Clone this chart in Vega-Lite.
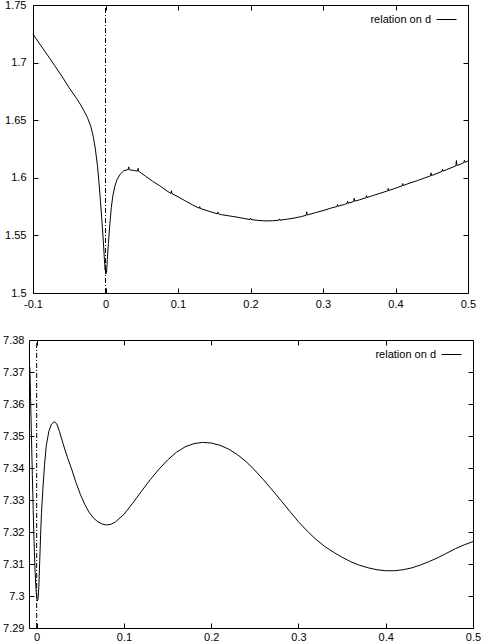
{
  "$schema": "https://vega.github.io/schema/vega-lite/v6.json",
  "background": "white",
  "padding": {"left": 2, "top": -1, "right": 0, "bottom": 0},
  "config": {
    "view": {"stroke": "black", "strokeWidth": 1},
    "axis": {"domain": false, "grid": false, "title": null, "labelFlush": false, "labelFont": "Liberation Sans", "labelFontSize": 11, "labelColor": "black", "tickColor": "black", "tickSize": -5, "tickWidth": 1, "domainColor": "black", "domainWidth": 1},
    "legend": {"orient": "top-right", "offset": 9, "padding": 0, "title": null, "symbolType": "M-2,0H2", "symbolSize": 100, "symbolStrokeWidth": 1, "labelAlign": "right", "labelOffset": -21, "labelFont": "Liberation Sans", "labelFontSize": 11, "labelColor": "black"}
  },
  "vconcat": [
    {
      "width": 439,
      "height": 288,
      "view": {"stroke": null},
      "layer": [
        {
          "data": {"values": [
            {"x": -0.1, "y": 1.7246}, {"x": -0.09, "y": 1.7155}, {"x": -0.08, "y": 1.7065}, {"x": -0.07, "y": 1.6973},
            {"x": -0.06, "y": 1.688}, {"x": -0.05, "y": 1.678}, {"x": -0.04, "y": 1.669}, {"x": -0.035, "y": 1.664},
            {"x": -0.03, "y": 1.6585}, {"x": -0.025, "y": 1.6525}, {"x": -0.02, "y": 1.644}, {"x": -0.017, "y": 1.636},
            {"x": -0.014, "y": 1.625}, {"x": -0.011, "y": 1.61}, {"x": -0.009, "y": 1.596}, {"x": -0.007, "y": 1.58},
            {"x": -0.005, "y": 1.563}, {"x": -0.003, "y": 1.545}, {"x": -0.0015, "y": 1.529}, {"x": -0.0005, "y": 1.52},
            {"x": 0.0, "y": 1.523}, {"x": 0.0005, "y": 1.5165}, {"x": 0.001, "y": 1.52}, {"x": 0.0015, "y": 1.518},
            {"x": 0.0025, "y": 1.529}, {"x": 0.004, "y": 1.543}, {"x": 0.006, "y": 1.56}, {"x": 0.008, "y": 1.574},
            {"x": 0.01, "y": 1.584}, {"x": 0.013, "y": 1.593}, {"x": 0.016, "y": 1.5985}, {"x": 0.02, "y": 1.603},
            {"x": 0.025, "y": 1.606}, {"x": 0.03, "y": 1.607}, {"x": 0.0313, "y": 1.6072}, {"x": 0.032, "y": 1.6095},
            {"x": 0.0327, "y": 1.6069}, {"x": 0.035, "y": 1.6068}, {"x": 0.04, "y": 1.6062}, {"x": 0.0443, "y": 1.6059},
            {"x": 0.045, "y": 1.6082}, {"x": 0.0457, "y": 1.6057}, {"x": 0.055, "y": 1.6015}, {"x": 0.065, "y": 1.597},
            {"x": 0.075, "y": 1.593}, {"x": 0.085, "y": 1.5885}, {"x": 0.0903, "y": 1.5864}, {"x": 0.091, "y": 1.5888},
            {"x": 0.0917, "y": 1.5862}, {"x": 0.1, "y": 1.5835}, {"x": 0.11, "y": 1.58}, {"x": 0.12, "y": 1.5765},
            {"x": 0.1293, "y": 1.5736}, {"x": 0.13, "y": 1.575}, {"x": 0.1307, "y": 1.5734}, {"x": 0.14, "y": 1.5715},
            {"x": 0.15, "y": 1.5695}, {"x": 0.1543, "y": 1.5688}, {"x": 0.155, "y": 1.5702}, {"x": 0.1557, "y": 1.5687},
            {"x": 0.16, "y": 1.568}, {"x": 0.17, "y": 1.567}, {"x": 0.18, "y": 1.566}, {"x": 0.19, "y": 1.5648},
            {"x": 0.1993, "y": 1.5638}, {"x": 0.2, "y": 1.565}, {"x": 0.2007, "y": 1.5638}, {"x": 0.21, "y": 1.563},
            {"x": 0.22, "y": 1.5626}, {"x": 0.23, "y": 1.5627}, {"x": 0.2393, "y": 1.5632}, {"x": 0.24, "y": 1.5643},
            {"x": 0.2407, "y": 1.5632}, {"x": 0.25, "y": 1.564}, {"x": 0.26, "y": 1.565}, {"x": 0.27, "y": 1.5663},
            {"x": 0.2768, "y": 1.5675}, {"x": 0.2775, "y": 1.5705}, {"x": 0.2782, "y": 1.5677}, {"x": 0.28, "y": 1.568},
            {"x": 0.29, "y": 1.5698}, {"x": 0.3, "y": 1.5715}, {"x": 0.31, "y": 1.5735}, {"x": 0.3193, "y": 1.5751},
            {"x": 0.32, "y": 1.5768}, {"x": 0.3207, "y": 1.5753}, {"x": 0.33, "y": 1.577}, {"x": 0.3333, "y": 1.5777},
            {"x": 0.334, "y": 1.5797}, {"x": 0.3347, "y": 1.5779}, {"x": 0.34, "y": 1.579}, {"x": 0.3423, "y": 1.5795},
            {"x": 0.343, "y": 1.5822}, {"x": 0.3437, "y": 1.5797}, {"x": 0.35, "y": 1.5808}, {"x": 0.3593, "y": 1.5827},
            {"x": 0.36, "y": 1.5845}, {"x": 0.3607, "y": 1.5829}, {"x": 0.37, "y": 1.5848}, {"x": 0.38, "y": 1.5868},
            {"x": 0.3893, "y": 1.5887}, {"x": 0.39, "y": 1.5908}, {"x": 0.3907, "y": 1.5889}, {"x": 0.4, "y": 1.591},
            {"x": 0.4093, "y": 1.5931}, {"x": 0.41, "y": 1.595}, {"x": 0.4107, "y": 1.5933}, {"x": 0.42, "y": 1.5955},
            {"x": 0.43, "y": 1.5975}, {"x": 0.44, "y": 1.5998}, {"x": 0.4483, "y": 1.6017}, {"x": 0.449, "y": 1.6043},
            {"x": 0.4497, "y": 1.6019}, {"x": 0.46, "y": 1.6045}, {"x": 0.4643, "y": 1.6056}, {"x": 0.465, "y": 1.6075},
            {"x": 0.4657, "y": 1.6058}, {"x": 0.47, "y": 1.607}, {"x": 0.48, "y": 1.6095}, {"x": 0.4833, "y": 1.6104},
            {"x": 0.484, "y": 1.615}, {"x": 0.4847, "y": 1.6106}, {"x": 0.49, "y": 1.612}, {"x": 0.4943, "y": 1.6132},
            {"x": 0.495, "y": 1.6152}, {"x": 0.4957, "y": 1.6134}, {"x": 0.5, "y": 1.6146}
          ]},
          "mark": {"type": "line", "strokeWidth": 1, "clip": true},
          "encoding": {
            "x": {"field": "x", "type": "quantitative", "scale": {"domain": [-0.1, 0.5], "range": [4, 439], "nice": false, "zero": false},
                  "axis": {"orient": "bottom", "domain": true, "values": [-0.1, 0, 0.1, 0.2, 0.3, 0.4, 0.5], "labelPadding": 10,
                           "labelExpr": "datum.value < 0 ? '-' + format(-datum.value, '.1~f') : format(datum.value, '.1~f')"}},
            "y": {"field": "y", "type": "quantitative", "scale": {"domain": [1.5, 1.75], "nice": false, "zero": false},
                  "axis": {"orient": "left", "domain": true, "offset": -4, "values": [1.5, 1.55, 1.6, 1.65, 1.7, 1.75], "format": ".2~f", "labelPadding": 12}},
            "color": {"datum": "relation on d", "scale": {"range": ["black"]}}
          }
        },
        {
          "data": {"values": [{"x": 0}]},
          "mark": {"type": "rule", "color": "black", "strokeWidth": 1, "strokeDash": [5, 2, 1, 2]},
          "encoding": {
            "x": {"field": "x", "type": "quantitative", "axis": {"orient": "top", "domain": true, "labels": false, "values": [-0.1, 0, 0.1, 0.2, 0.3, 0.4, 0.5]}},
            "y": {"datum": 1.5, "type": "quantitative", "axis": {"orient": "right", "domain": true, "labels": false, "values": [1.5, 1.55, 1.6, 1.65, 1.7, 1.75]}},
            "y2": {"datum": 1.75}
          }
        }
      ],
      "resolve": {"axis": {"x": "independent", "y": "independent"}}
    },
    {
      "width": 444,
      "height": 288,
      "layer": [
        {
          "data": {"values": [
            {"x": -0.0078, "y": 7.3715}, {"x": -0.007, "y": 7.362}, {"x": -0.006, "y": 7.35}, {"x": -0.005, "y": 7.338},
            {"x": -0.004, "y": 7.327}, {"x": -0.003, "y": 7.317}, {"x": -0.002, "y": 7.309}, {"x": -0.001, "y": 7.303},
            {"x": 0.0, "y": 7.2995}, {"x": 0.0008, "y": 7.2985}, {"x": 0.0015, "y": 7.299}, {"x": 0.0025, "y": 7.303},
            {"x": 0.0035, "y": 7.311}, {"x": 0.0045, "y": 7.319}, {"x": 0.0055, "y": 7.326}, {"x": 0.007, "y": 7.333},
            {"x": 0.009, "y": 7.341}, {"x": 0.011, "y": 7.347}, {"x": 0.014, "y": 7.3515}, {"x": 0.017, "y": 7.3537},
            {"x": 0.02, "y": 7.3545}, {"x": 0.023, "y": 7.3538}, {"x": 0.026, "y": 7.3515}, {"x": 0.03, "y": 7.3478},
            {"x": 0.035, "y": 7.3435}, {"x": 0.04, "y": 7.3397}, {"x": 0.045, "y": 7.3355}, {"x": 0.05, "y": 7.3318},
            {"x": 0.055, "y": 7.3287}, {"x": 0.06, "y": 7.3262}, {"x": 0.065, "y": 7.3244}, {"x": 0.07, "y": 7.3232},
            {"x": 0.075, "y": 7.3225}, {"x": 0.08, "y": 7.3222}, {"x": 0.085, "y": 7.3224}, {"x": 0.09, "y": 7.3231},
            {"x": 0.1, "y": 7.3255}, {"x": 0.11, "y": 7.329}, {"x": 0.12, "y": 7.3327}, {"x": 0.13, "y": 7.3363},
            {"x": 0.14, "y": 7.3396}, {"x": 0.15, "y": 7.3425}, {"x": 0.16, "y": 7.3449}, {"x": 0.17, "y": 7.3466},
            {"x": 0.18, "y": 7.3476}, {"x": 0.19, "y": 7.348}, {"x": 0.2, "y": 7.3478}, {"x": 0.21, "y": 7.3471},
            {"x": 0.22, "y": 7.3459}, {"x": 0.23, "y": 7.3442}, {"x": 0.24, "y": 7.342}, {"x": 0.25, "y": 7.3393},
            {"x": 0.26, "y": 7.3363}, {"x": 0.27, "y": 7.3331}, {"x": 0.28, "y": 7.3298}, {"x": 0.29, "y": 7.3265},
            {"x": 0.3, "y": 7.3232}, {"x": 0.31, "y": 7.3203}, {"x": 0.32, "y": 7.3177}, {"x": 0.33, "y": 7.3155},
            {"x": 0.34, "y": 7.3137}, {"x": 0.35, "y": 7.3121}, {"x": 0.36, "y": 7.3107}, {"x": 0.37, "y": 7.3096},
            {"x": 0.38, "y": 7.3088}, {"x": 0.39, "y": 7.3082}, {"x": 0.4, "y": 7.3079}, {"x": 0.41, "y": 7.3079},
            {"x": 0.42, "y": 7.3082}, {"x": 0.43, "y": 7.3088}, {"x": 0.44, "y": 7.3097}, {"x": 0.45, "y": 7.3108},
            {"x": 0.46, "y": 7.312}, {"x": 0.47, "y": 7.3134}, {"x": 0.48, "y": 7.3148}, {"x": 0.49, "y": 7.316},
            {"x": 0.5, "y": 7.317}
          ]},
          "mark": {"type": "line", "strokeWidth": 1, "clip": true},
          "encoding": {
            "x": {"field": "x", "type": "quantitative", "scale": {"domain": [-0.0088, 0.5], "nice": false, "zero": false},
                  "axis": {"orient": "bottom", "values": [0, 0.1, 0.2, 0.3, 0.4, 0.5], "format": ".1~f", "labelPadding": 8}},
            "y": {"field": "y", "type": "quantitative", "scale": {"domain": [7.29, 7.38], "nice": false, "zero": false},
                  "axis": {"orient": "left", "values": [7.29, 7.3, 7.31, 7.32, 7.33, 7.34, 7.35, 7.36, 7.37, 7.38], "format": ".2~f", "labelPadding": 10}},
            "color": {"datum": "relation on d", "scale": {"range": ["black"]}}
          }
        },
        {
          "data": {"values": [{"x": 0}]},
          "mark": {"type": "rule", "color": "black", "strokeWidth": 1, "strokeDash": [5, 2, 1, 2]},
          "encoding": {
            "x": {"field": "x", "type": "quantitative", "axis": {"orient": "top", "labels": false, "values": [0, 0.1, 0.2, 0.3, 0.4, 0.5]}},
            "y": {"datum": 7.29, "type": "quantitative", "axis": {"orient": "right", "labels": false, "values": [7.29, 7.3, 7.31, 7.32, 7.33, 7.34, 7.35, 7.36, 7.37, 7.38]}},
            "y2": {"datum": 7.38}
          }
        }
      ],
      "resolve": {"axis": {"x": "independent", "y": "independent"}}
    }
  ],
  "bounds": "flush",
  "spacing": 47,
  "resolve": {"scale": {"color": "independent"}, "legend": {"color": "independent"}}
}
